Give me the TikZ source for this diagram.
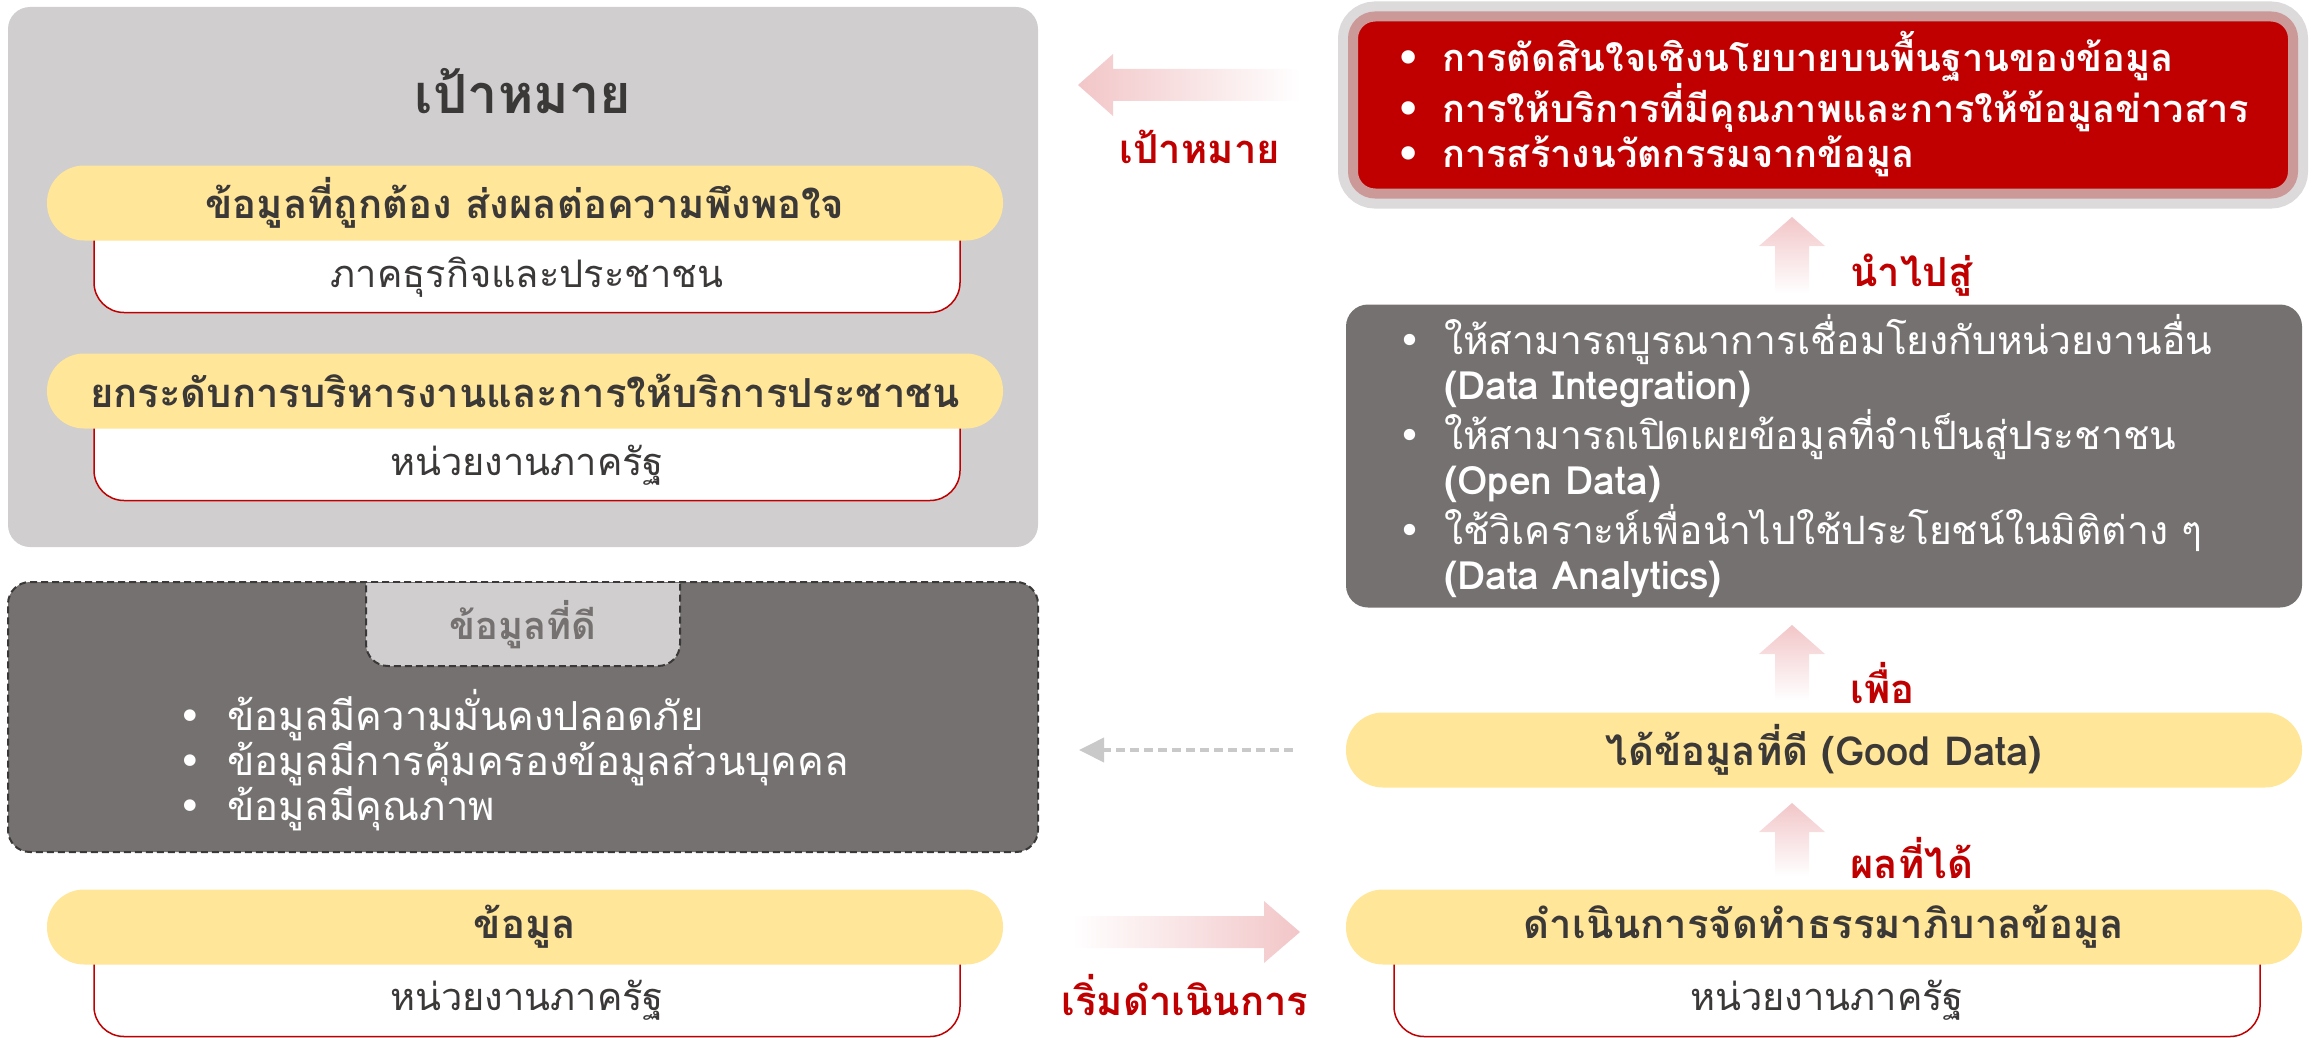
\documentclass[tikz,border=0pt]{standalone}
\usepackage{fontspec}
\setmainfont{Loma}[Script=Thai]
\newfontfamily\symfont{DejaVu Sans}
\usetikzlibrary{calc,arrows.meta}

\definecolor{panelgray}{HTML}{D0CECE}
\definecolor{darkpanel}{HTML}{767171}
\definecolor{pillyellow}{HTML}{FFE699}
\definecolor{mainred}{HTML}{C00000}
\definecolor{darktext}{HTML}{3B3838}
\definecolor{arrowpink}{HTML}{F2C6C8}
\definecolor{halopink}{HTML}{CC9999}
\definecolor{halogray}{HTML}{DCDADA}
\definecolor{dotgray}{HTML}{C9C9C9}

% bullet cell for the lists
\newcommand{\bul}[1][46pt]{\makebox[#1][l]{\symfont •}}

\tikzset{
  pill/.style={fill=pillyellow, rounded corners=37pt, minimum width=956pt, minimum height=75pt,
    text=darktext, font=\fontsize{40}{48}\selectfont\bfseries},
  subbox/.style={draw=mainred, line width=1.5pt, fill=white, rounded corners=30pt,
    minimum width=866pt, minimum height=109pt},
  subtext/.style={text=darktext, font=\fontsize{38}{46}\selectfont},
  redlabel/.style={text=mainred, font=\fontsize{40}{48}\selectfont\bfseries},
  listtext/.style={align=left, anchor=west, inner sep=0pt, text=white},
  fatarrow/.style={draw=none},
}

\begin{document}
\begin{tikzpicture}[x=1pt,y=-1pt]
\useasboundingbox (0,0) rectangle (2312,1038);

% left: goals panel
\node[fill=panelgray, rounded corners=22pt, minimum width=1030pt, minimum height=540pt] (goalpanel) at (523,277) {};
\node[text=darktext, font=\fontsize{54}{60}\selectfont\bfseries] (goaltitle) at (523,91) {เป้าหมาย};

\node[subbox] (bizbox) at (527,258) {};
\node[pill] (accurate) at (525,203) {ข้อมูลที่ถูกต้อง ส่งผลต่อความพึงพอใจ};
\node[subtext] (biz) at (527,277) {ภาคธุรกิจและประชาชน};

\node[subbox] (govbox) at (527,446) {};
\node[pill] (service) at (525,391) {ยกระดับการบริหารงานและการให้บริการประชาชน};
\node[subtext] (gov) at (527,465) {หน่วยงานภาครัฐ};

% left: good data panel
\node[fill=darkpanel, draw=darktext, line width=2pt, dash pattern=on 7pt off 4pt,
  rounded corners=22pt, minimum width=1030pt, minimum height=270pt] (goodpanel) at (523,717) {};
\begin{scope}
  \clip (0,583) rectangle (2312,700);
  \node[fill=panelgray, draw=darktext, line width=2pt, dash pattern=on 7pt off 4pt,
    rounded corners=22pt, minimum width=314pt, minimum height=106pt] (goodtab) at (523,613) {};
\end{scope}
\node[text=darkpanel, font=\fontsize{38}{46}\selectfont\bfseries] (goodtitle) at (523,625) {ข้อมูลที่ดี};
\node[listtext, font=\fontsize{40}{45}\selectfont] (goodlist) at (178,760)
  {\bul[49pt]ข้อมูลมีความมั่นคงปลอดภัย\\
   \bul[49pt]ข้อมูลมีการคุ้มครองข้อมูลส่วนบุคคล\\
   \bul[49pt]ข้อมูลมีคุณภาพ};

% left: data
\node[subbox] (databox) at (527,982) {};
\node[pill] (data) at (525,927) {ข้อมูล};
\node[subtext] (datagov) at (527,1000) {หน่วยงานภาครัฐ};

% right: aims
\node[fill=mainred, draw=halopink, line width=10pt, preaction={draw=halogray, line width=30pt},
  rounded corners=22pt, minimum width=940pt, minimum height=177pt] (aimframe) at (1823,105) {};
\node[listtext, font=\fontsize{38}{45}\selectfont\bfseries] (aimlist) at (1396,104)
  {\bul การตัดสินใจเชิงนโยบายบนพื้นฐานของข้อมูล\\
   \bul การให้บริการที่มีคุณภาพและการให้ข้อมูลข่าวสาร\\
   \bul การสร้างนวัตกรรมจากข้อมูล};

% right: uses
\node[fill=darkpanel, rounded corners=22pt, minimum width=956pt, minimum height=303pt] (useframe) at (1824,456) {};
\node[listtext, font=\fontsize{39}{45.5}\selectfont] (uselist) at (1398,456)
  {\bul ให้สามารถบูรณาการเชื่อมโยงกับหน่วยงานอื่น\\
   \hspace*{46pt}\textbf{(Data Integration)}\\
   \bul ให้สามารถเปิดเผยข้อมูลที่จำเป็นสู่ประชาชน\\
   \hspace*{46pt}\textbf{(Open Data)}\\
   \bul ใช้วิเคราะห์เพื่อนำไปใช้ประโยชน์ในมิติต่าง ๆ\\
   \hspace*{46pt}\textbf{(Data Analytics)}};

% right: good data and governance
\node[pill] (good) at (1824,750) {ได้ข้อมูลที่ดี (Good Data)};
\node[subbox] (govrbox) at (1827,982) {};
\node[pill] (govern) at (1824,927) {ดำเนินการจัดทำธรรมาภิบาลข้อมูล};
\node[subtext] (govr) at (1827,1000) {หน่วยงานภาครัฐ};

% fat arrows
\coordinate (goaltip) at (1078,85);
\coordinate (goaltail) at (1300,85);
\shade[fatarrow, left color=arrowpink, middle color=arrowpink, right color=white]
  ($(goaltail)+(0,-16)$) -- ($(goaltip)+(35,-16)$) -- ($(goaltip)+(35,-31)$) -- (goaltip)
  -- ($(goaltip)+(35,31)$) -- ($(goaltip)+(35,16)$) -- ($(goaltail)+(0,16)$) -- cycle;
\node[redlabel] (goallabel) at (1200,147) {เป้าหมาย};

\coordinate (leadtip) at (1792,217);
\coordinate (leadtail) at (1792,293);
\shade[fatarrow, top color=arrowpink, middle color=arrowpink, bottom color=white]
  ($(leadtail)+(-17,0)$) -- ($(leadtip)+(-17,29)$) -- ($(leadtip)+(-33,29)$) -- (leadtip)
  -- ($(leadtip)+(33,29)$) -- ($(leadtip)+(17,29)$) -- ($(leadtail)+(17,0)$) -- cycle;
\node[redlabel, anchor=west] (leadlabel) at (1847,275) {นำไปสู่};

\coordinate (fortip) at (1792,625);
\coordinate (fortail) at (1792,700);
\shade[fatarrow, top color=arrowpink, middle color=arrowpink, bottom color=white]
  ($(fortail)+(-17,0)$) -- ($(fortip)+(-17,29)$) -- ($(fortip)+(-33,29)$) -- (fortip)
  -- ($(fortip)+(33,29)$) -- ($(fortip)+(17,29)$) -- ($(fortail)+(17,0)$) -- cycle;
\node[redlabel, anchor=west] (forlabel) at (1847,683) {เพื่อ};

\coordinate (resulttip) at (1792,803);
\coordinate (resulttail) at (1792,876);
\shade[fatarrow, top color=arrowpink, middle color=arrowpink, bottom color=white]
  ($(resulttail)+(-17,0)$) -- ($(resulttip)+(-17,29)$) -- ($(resulttip)+(-33,29)$) -- (resulttip)
  -- ($(resulttip)+(33,29)$) -- ($(resulttip)+(17,29)$) -- ($(resulttail)+(17,0)$) -- cycle;
\node[redlabel, anchor=west] (resultlabel) at (1847,858) {ผลที่ได้};

\coordinate (starttail) at (1073,932);
\coordinate (starttip) at (1300,932);
\shade[fatarrow, left color=white, middle color=arrowpink, right color=arrowpink]
  ($(starttail)+(0,-16)$) -- ($(starttip)+(-36,-16)$) -- ($(starttip)+(-36,-31)$) -- (starttip)
  -- ($(starttip)+(-36,31)$) -- ($(starttip)+(-36,16)$) -- ($(starttail)+(0,16)$) -- cycle;
\node[redlabel] (startlabel) at (1185,995) {เริ่มดำเนินการ};

% dotted link back to the good data panel
\draw[dotgray, line width=4pt, dash pattern=on 9pt off 5pt, -{Triangle[length=25pt,width=24pt]}]
  ([xshift=-53pt]good.west) -- ([xshift=40pt]good.west -| goodpanel.east);

\end{tikzpicture}
\end{document}
